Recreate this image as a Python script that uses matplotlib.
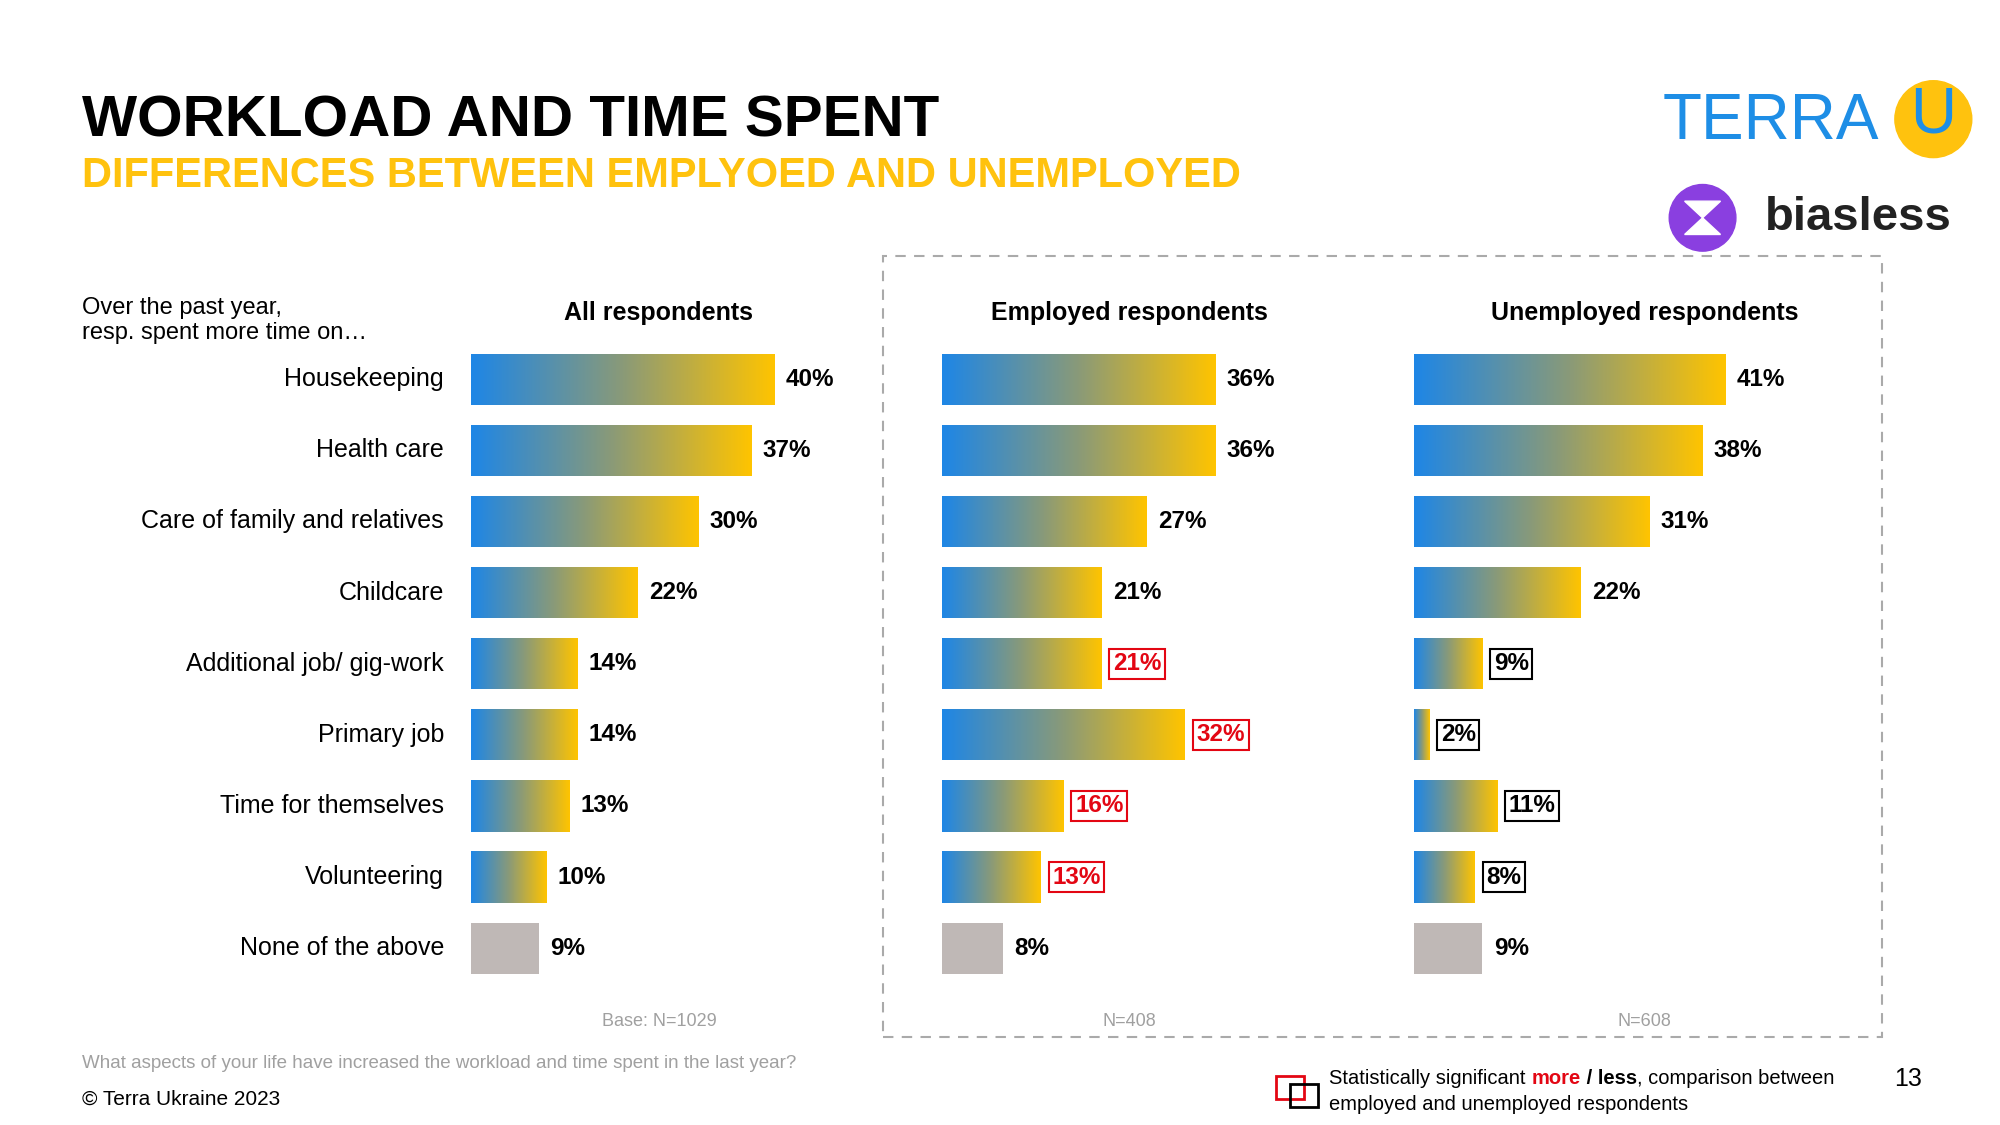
import matplotlib
matplotlib.use("Agg")
import matplotlib.pyplot as plt
import numpy as np
from matplotlib.colors import LinearSegmentedColormap
from matplotlib.patches import Rectangle, Circle, Polygon

plt.rcParams['font.family'] = ['Liberation Sans', 'DejaVu Sans']

categories = ["Housekeeping", "Health care", "Care of family and relatives", "Childcare",
              "Additional job/ gig-work", "Primary job", "Time for themselves",
              "Volunteering", "None of the above"]
all_vals = [40, 37, 30, 22, 14, 14, 13, 10, 9]
emp_vals = [36, 36, 27, 21, 21, 32, 16, 13, 8]
unemp_vals = [41, 38, 31, 22, 9, 2, 11, 8, 9]
emp_sig = [None, None, None, None, "more", "more", "more", "more", None]
unemp_sig = [None, None, None, None, "less", "less", "less", "less", None]
panel_titles = ["All respondents", "Employed respondents", "Unemployed respondents"]
bases = ["Base: N=1029", "N=408", "N=608"]

W, H = 1560, 878
fig = plt.figure(figsize=(20, 11.25), dpi=100)
fig.patch.set_facecolor("white")
def fx(px): return px / W
def fy(py): return 1 - py / H

cmap = LinearSegmentedColormap.from_list("g", ["#1E86E6", "#8A9A78", "#FFC400"])
grey = "#BFB8B6"
pxper = 5.92

def panel(left, center, vals, sig, title, base):
    ax = fig.add_axes([fx(left), fy(767.75), fx(340), (767.75 - 268.25) / H])
    ax.axis("off")
    n = len(vals)
    for i, v in enumerate(vals):
        last = i == n - 1
        bars = ax.barh(i, v, height=0.72, color=grey if last else "none", edgecolor="none")
        if not last:
            grad = np.linspace(0, 1, 256).reshape(1, -1)
            im = ax.imshow(grad, cmap=cmap, aspect="auto",
                           extent=[0, v, i + 0.36, i - 0.36], zorder=2)
            im.set_clip_path(bars[0])
        s = sig[i] if sig else None
        col = "#E30613" if s == "more" else "black"
        kw = {}
        if s:
            kw["bbox"] = dict(boxstyle="square,pad=0.15", fc="white", ec=col, lw=1.5)
        ax.text(v + 1.5, i, f"{v}%", va="center", ha="left", fontsize=17.5,
                fontweight="bold", color=col, **kw)
    ax.set_xlim(0, 340 / pxper)
    ax.set_ylim(8.5, -0.5)
    fig.text(fx(center), fy(244), title, ha="center", va="center",
             fontsize=18, fontweight="bold")
    fig.text(fx(center), fy(797), base, ha="center", va="center",
             fontsize=13, color="#A0A0A0")
    return ax

ax0 = panel(367, 514, all_vals, None, panel_titles[0], bases[0])
panel(735, 881, emp_vals, emp_sig, panel_titles[1], bases[1])
panel(1103, 1283, unemp_vals, unemp_sig, panel_titles[2], bases[2])

for i, c in enumerate(categories):
    ax0.text(-3.5, i, c, ha="right", va="center", fontsize=18)

fig.text(fx(64), fy(95), "WORKLOAD AND TIME SPENT", fontsize=42, fontweight="bold",
         va="center", ha="left")
fig.text(fx(64), fy(137), "DIFFERENCES BETWEEN EMPLYOED AND UNEMPLOYED", fontsize=30,
         fontweight="bold", color="#FFC20E", va="center", ha="left")
fig.text(fx(64), fy(250), "Over the past year,\nresp. spent more time on…", fontsize=17,
         va="center", ha="left", linespacing=1.15)

fig.patches.append(Rectangle((fx(689), fy(809)), fx(779), (809 - 200) / H,
                             transform=fig.transFigure, fill=False, ec="#AAAAAA",
                             ls=(0, (5, 4)), lw=1.5))

fig.text(fx(64), fy(830), "What aspects of your life have increased the workload and time spent in the last year?",
         fontsize=13.5, color="#A0A0A0", va="center")
fig.text(fx(64), fy(858), "© Terra Ukraine 2023", fontsize=15, va="center")
fig.text(fx(1488), fy(842), "13", fontsize=18, va="center", ha="center")

fig.patches.append(Rectangle((fx(995), fy(858)), fx(22), 18 / H, transform=fig.transFigure,
                             fill=False, ec="#E30613", lw=2))
fig.patches.append(Rectangle((fx(1006), fy(864)), fx(22), 18 / H, transform=fig.transFigure,
                             fill=False, ec="black", lw=2))
t1 = fig.text(fx(1037), fy(842), "Statistically significant ", fontsize=14.5, va="center")
fig.canvas.draw()
r = fig.canvas.get_renderer()
bb = t1.get_window_extent(r)
t2 = fig.text(bb.x1 / fig.bbox.width, fy(842), "more", fontsize=14.5, va="center",
              color="#E30613", fontweight="bold")
bb2 = t2.get_window_extent(r)
t3 = fig.text(bb2.x1 / fig.bbox.width, fy(842), " / less", fontsize=14.5, va="center",
              fontweight="bold")
bb3 = t3.get_window_extent(r)
fig.text(bb3.x1 / fig.bbox.width, fy(842), ", comparison between", fontsize=14.5, va="center")
fig.text(fx(1037), fy(862), "employed and unemployed respondents", fontsize=14.5, va="center")

# logos
lax = fig.add_axes([0, 0, 1, 1], facecolor="none")
lax.set_xlim(0, W); lax.set_ylim(H, 0); lax.axis("off")
lax.text(1297, 95, "TERRA", fontsize=46, color="#1E8EE6", va="center", ha="left")
lax.add_patch(Circle((1508, 93), 30, color="#FFC20E"))
lax.text(1508, 90, "U", fontsize=46, color="#1E8EE6", ha="center", va="center")
lax.add_patch(Circle((1328, 170), 26, color="#8A3FE0"))
lax.add_patch(Polygon([(1314, 157), (1342, 157), (1328, 170)], color="white"))
lax.add_patch(Polygon([(1314, 183), (1342, 183), (1328, 170)], color="white"))
lax.text(1377, 170, "biasless", fontsize=34, fontweight="bold", color="#222222",
         ha="left", va="center")

fig.savefig("out.png", dpi=100)
